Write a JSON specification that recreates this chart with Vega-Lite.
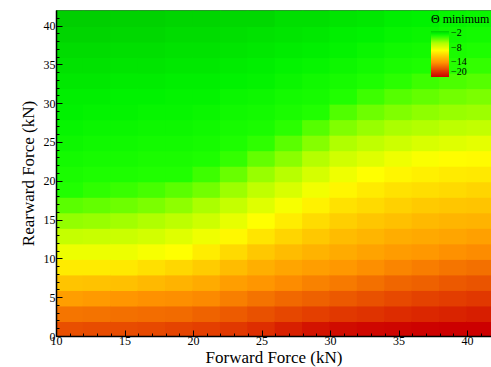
{
  "$schema": "https://vega.github.io/schema/vega-lite/v6.json",
  "width": 435,
  "height": 326,
  "autosize": "none",
  "padding": {"left": 56, "top": 10, "right": 0, "bottom": 31},
  "background": "white",
  "config": {"view": {"stroke": "#555", "strokeWidth": 1}},
  "data": {"values": [
{"x":10,"y":0,"v":-16.7},{"x":10,"y":2,"v":-15.2},{"x":10,"y":4,"v":-13.5},{"x":10,"y":6,"v":-11.7},{"x":10,"y":8,"v":-9.9},{"x":10,"y":10,"v":-8.3},{"x":10,"y":12,"v":-6.8},{"x":10,"y":14,"v":-5.4},{"x":10,"y":16,"v":-4.2},{"x":10,"y":18,"v":-3.0},{"x":10,"y":20,"v":-2.8},{"x":10,"y":22,"v":-2.6},{"x":10,"y":24,"v":-2.4},{"x":10,"y":26,"v":-2.2},{"x":10,"y":28,"v":-2.0},{"x":10,"y":30,"v":-1.9},{"x":10,"y":32,"v":-1.7},{"x":10,"y":34,"v":-1.5},{"x":10,"y":36,"v":-1.3},{"x":10,"y":38,"v":-1.1},{"x":10,"y":40,"v":-0.9},
{"x":12,"y":0,"v":-16.8},{"x":12,"y":2,"v":-15.3},{"x":12,"y":4,"v":-13.7},{"x":12,"y":6,"v":-11.8},{"x":12,"y":8,"v":-9.9},{"x":12,"y":10,"v":-8.3},{"x":12,"y":12,"v":-6.9},{"x":12,"y":14,"v":-5.5},{"x":12,"y":16,"v":-4.4},{"x":12,"y":18,"v":-3.3},{"x":12,"y":20,"v":-2.9},{"x":12,"y":22,"v":-2.7},{"x":12,"y":24,"v":-2.5},{"x":12,"y":26,"v":-2.3},{"x":12,"y":28,"v":-2.1},{"x":12,"y":30,"v":-1.9},{"x":12,"y":32,"v":-1.7},{"x":12,"y":34,"v":-1.5},{"x":12,"y":36,"v":-1.3},{"x":12,"y":38,"v":-1.1},{"x":12,"y":40,"v":-0.9},
{"x":14,"y":0,"v":-16.8},{"x":14,"y":2,"v":-15.4},{"x":14,"y":4,"v":-13.9},{"x":14,"y":6,"v":-11.9},{"x":14,"y":8,"v":-10.0},{"x":14,"y":10,"v":-8.3},{"x":14,"y":12,"v":-7.0},{"x":14,"y":14,"v":-5.7},{"x":14,"y":16,"v":-4.6},{"x":14,"y":18,"v":-3.5},{"x":14,"y":20,"v":-2.9},{"x":14,"y":22,"v":-2.7},{"x":14,"y":24,"v":-2.5},{"x":14,"y":26,"v":-2.3},{"x":14,"y":28,"v":-2.1},{"x":14,"y":30,"v":-2.0},{"x":14,"y":32,"v":-1.8},{"x":14,"y":34,"v":-1.6},{"x":14,"y":36,"v":-1.4},{"x":14,"y":38,"v":-1.2},{"x":14,"y":40,"v":-1.0},
{"x":16,"y":0,"v":-16.9},{"x":16,"y":2,"v":-15.5},{"x":16,"y":4,"v":-14.1},{"x":16,"y":6,"v":-12.2},{"x":16,"y":8,"v":-10.4},{"x":16,"y":10,"v":-8.7},{"x":16,"y":12,"v":-7.3},{"x":16,"y":14,"v":-6.0},{"x":16,"y":16,"v":-4.9},{"x":16,"y":18,"v":-3.8},{"x":16,"y":20,"v":-3.0},{"x":16,"y":22,"v":-2.8},{"x":16,"y":24,"v":-2.6},{"x":16,"y":26,"v":-2.4},{"x":16,"y":28,"v":-2.2},{"x":16,"y":30,"v":-2.0},{"x":16,"y":32,"v":-1.8},{"x":16,"y":34,"v":-1.6},{"x":16,"y":36,"v":-1.4},{"x":16,"y":38,"v":-1.2},{"x":16,"y":40,"v":-1.0},
{"x":18,"y":0,"v":-17.1},{"x":18,"y":2,"v":-15.6},{"x":18,"y":4,"v":-14.2},{"x":18,"y":6,"v":-12.5},{"x":18,"y":8,"v":-10.8},{"x":18,"y":10,"v":-9.0},{"x":18,"y":12,"v":-7.8},{"x":18,"y":14,"v":-6.5},{"x":18,"y":16,"v":-5.3},{"x":18,"y":18,"v":-4.2},{"x":18,"y":20,"v":-3.0},{"x":18,"y":22,"v":-2.8},{"x":18,"y":24,"v":-2.6},{"x":18,"y":26,"v":-2.4},{"x":18,"y":28,"v":-2.2},{"x":18,"y":30,"v":-2.1},{"x":18,"y":32,"v":-1.9},{"x":18,"y":34,"v":-1.7},{"x":18,"y":36,"v":-1.5},{"x":18,"y":38,"v":-1.3},{"x":18,"y":40,"v":-1.1},
{"x":20,"y":0,"v":-17.3},{"x":20,"y":2,"v":-15.9},{"x":20,"y":4,"v":-14.4},{"x":20,"y":6,"v":-12.9},{"x":20,"y":8,"v":-11.3},{"x":20,"y":10,"v":-9.8},{"x":20,"y":12,"v":-8.4},{"x":20,"y":14,"v":-7.1},{"x":20,"y":16,"v":-5.9},{"x":20,"y":18,"v":-4.7},{"x":20,"y":20,"v":-3.6},{"x":20,"y":22,"v":-2.9},{"x":20,"y":24,"v":-2.7},{"x":20,"y":26,"v":-2.5},{"x":20,"y":28,"v":-2.3},{"x":20,"y":30,"v":-2.1},{"x":20,"y":32,"v":-1.9},{"x":20,"y":34,"v":-1.7},{"x":20,"y":36,"v":-1.5},{"x":20,"y":38,"v":-1.3},{"x":20,"y":40,"v":-1.1},
{"x":22,"y":0,"v":-17.6},{"x":22,"y":2,"v":-16.2},{"x":22,"y":4,"v":-14.8},{"x":22,"y":6,"v":-13.5},{"x":22,"y":8,"v":-12.1},{"x":22,"y":10,"v":-10.7},{"x":22,"y":12,"v":-9.3},{"x":22,"y":14,"v":-8.1},{"x":22,"y":16,"v":-6.8},{"x":22,"y":18,"v":-5.6},{"x":22,"y":20,"v":-4.5},{"x":22,"y":22,"v":-3.4},{"x":22,"y":24,"v":-2.9},{"x":22,"y":26,"v":-2.7},{"x":22,"y":28,"v":-2.5},{"x":22,"y":30,"v":-2.3},{"x":22,"y":32,"v":-2.0},{"x":22,"y":34,"v":-1.8},{"x":22,"y":36,"v":-1.6},{"x":22,"y":38,"v":-1.4},{"x":22,"y":40,"v":-1.2},
{"x":24,"y":0,"v":-18.0},{"x":24,"y":2,"v":-16.6},{"x":24,"y":4,"v":-15.3},{"x":24,"y":6,"v":-13.9},{"x":24,"y":8,"v":-12.7},{"x":24,"y":10,"v":-11.5},{"x":24,"y":12,"v":-10.2},{"x":24,"y":14,"v":-9.0},{"x":24,"y":16,"v":-7.8},{"x":24,"y":18,"v":-6.6},{"x":24,"y":20,"v":-5.5},{"x":24,"y":22,"v":-4.4},{"x":24,"y":24,"v":-3.3},{"x":24,"y":26,"v":-2.8},{"x":24,"y":28,"v":-2.6},{"x":24,"y":30,"v":-2.4},{"x":24,"y":32,"v":-2.1},{"x":24,"y":34,"v":-1.9},{"x":24,"y":36,"v":-1.7},{"x":24,"y":38,"v":-1.5},{"x":24,"y":40,"v":-1.2},
{"x":26,"y":0,"v":-18.6},{"x":26,"y":2,"v":-17.0},{"x":26,"y":4,"v":-15.7},{"x":26,"y":6,"v":-14.3},{"x":26,"y":8,"v":-13.2},{"x":26,"y":10,"v":-12.1},{"x":26,"y":12,"v":-10.9},{"x":26,"y":14,"v":-9.8},{"x":26,"y":16,"v":-8.7},{"x":26,"y":18,"v":-7.5},{"x":26,"y":20,"v":-6.3},{"x":26,"y":22,"v":-5.2},{"x":26,"y":24,"v":-4.2},{"x":26,"y":26,"v":-3.2},{"x":26,"y":28,"v":-2.8},{"x":26,"y":30,"v":-2.6},{"x":26,"y":32,"v":-2.3},{"x":26,"y":34,"v":-2.1},{"x":26,"y":36,"v":-1.8},{"x":26,"y":38,"v":-1.6},{"x":26,"y":40,"v":-1.4},
{"x":28,"y":0,"v":-19.2},{"x":28,"y":2,"v":-17.3},{"x":28,"y":4,"v":-16.0},{"x":28,"y":6,"v":-14.7},{"x":28,"y":8,"v":-13.5},{"x":28,"y":10,"v":-12.5},{"x":28,"y":12,"v":-11.5},{"x":28,"y":14,"v":-10.6},{"x":28,"y":16,"v":-9.6},{"x":28,"y":18,"v":-8.5},{"x":28,"y":20,"v":-7.4},{"x":28,"y":22,"v":-6.2},{"x":28,"y":24,"v":-5.1},{"x":28,"y":26,"v":-4.1},{"x":28,"y":28,"v":-3.0},{"x":28,"y":30,"v":-2.7},{"x":28,"y":32,"v":-2.5},{"x":28,"y":34,"v":-2.2},{"x":28,"y":36,"v":-1.9},{"x":28,"y":38,"v":-1.7},{"x":28,"y":40,"v":-1.4},
{"x":30,"y":0,"v":-19.5},{"x":30,"y":2,"v":-17.6},{"x":30,"y":4,"v":-16.3},{"x":30,"y":6,"v":-15.0},{"x":30,"y":8,"v":-13.8},{"x":30,"y":10,"v":-12.9},{"x":30,"y":12,"v":-12.1},{"x":30,"y":14,"v":-11.2},{"x":30,"y":16,"v":-10.3},{"x":30,"y":18,"v":-9.4},{"x":30,"y":20,"v":-8.4},{"x":30,"y":22,"v":-7.2},{"x":30,"y":24,"v":-6.0},{"x":30,"y":26,"v":-5.0},{"x":30,"y":28,"v":-4.0},{"x":30,"y":30,"v":-3.0},{"x":30,"y":32,"v":-2.7},{"x":30,"y":34,"v":-2.4},{"x":30,"y":36,"v":-2.1},{"x":30,"y":38,"v":-1.9},{"x":30,"y":40,"v":-1.6},
{"x":32,"y":0,"v":-19.7},{"x":32,"y":2,"v":-17.8},{"x":32,"y":4,"v":-16.6},{"x":32,"y":6,"v":-15.4},{"x":32,"y":8,"v":-14.2},{"x":32,"y":10,"v":-13.3},{"x":32,"y":12,"v":-12.4},{"x":32,"y":14,"v":-11.6},{"x":32,"y":16,"v":-10.7},{"x":32,"y":18,"v":-9.9},{"x":32,"y":20,"v":-9.0},{"x":32,"y":22,"v":-7.8},{"x":32,"y":24,"v":-6.6},{"x":32,"y":26,"v":-5.5},{"x":32,"y":28,"v":-4.6},{"x":32,"y":30,"v":-3.6},{"x":32,"y":32,"v":-2.9},{"x":32,"y":34,"v":-2.6},{"x":32,"y":36,"v":-2.3},{"x":32,"y":38,"v":-2.0},{"x":32,"y":40,"v":-1.7},
{"x":34,"y":0,"v":-19.8},{"x":34,"y":2,"v":-18.1},{"x":34,"y":4,"v":-16.9},{"x":34,"y":6,"v":-15.8},{"x":34,"y":8,"v":-14.6},{"x":34,"y":10,"v":-13.6},{"x":34,"y":12,"v":-12.8},{"x":34,"y":14,"v":-11.9},{"x":34,"y":16,"v":-11.1},{"x":34,"y":18,"v":-10.3},{"x":34,"y":20,"v":-9.4},{"x":34,"y":22,"v":-8.4},{"x":34,"y":24,"v":-7.1},{"x":34,"y":26,"v":-5.9},{"x":34,"y":28,"v":-5.0},{"x":34,"y":30,"v":-4.1},{"x":34,"y":32,"v":-3.2},{"x":34,"y":34,"v":-2.8},{"x":34,"y":36,"v":-2.5},{"x":34,"y":38,"v":-2.2},{"x":34,"y":40,"v":-1.9},
{"x":36,"y":0,"v":-19.9},{"x":36,"y":2,"v":-18.3},{"x":36,"y":4,"v":-17.2},{"x":36,"y":6,"v":-16.0},{"x":36,"y":8,"v":-14.9},{"x":36,"y":10,"v":-13.8},{"x":36,"y":12,"v":-13.0},{"x":36,"y":14,"v":-12.2},{"x":36,"y":16,"v":-11.4},{"x":36,"y":18,"v":-10.5},{"x":36,"y":20,"v":-9.7},{"x":36,"y":22,"v":-8.8},{"x":36,"y":24,"v":-7.5},{"x":36,"y":26,"v":-6.1},{"x":36,"y":28,"v":-5.3},{"x":36,"y":30,"v":-4.4},{"x":36,"y":32,"v":-3.6},{"x":36,"y":34,"v":-2.9},{"x":36,"y":36,"v":-2.6},{"x":36,"y":38,"v":-2.3},{"x":36,"y":40,"v":-2.0},
{"x":38,"y":0,"v":-20.0},{"x":38,"y":2,"v":-18.5},{"x":38,"y":4,"v":-17.4},{"x":38,"y":6,"v":-16.3},{"x":38,"y":8,"v":-15.2},{"x":38,"y":10,"v":-14.1},{"x":38,"y":12,"v":-13.2},{"x":38,"y":14,"v":-12.4},{"x":38,"y":16,"v":-11.6},{"x":38,"y":18,"v":-10.7},{"x":38,"y":20,"v":-9.9},{"x":38,"y":22,"v":-9.1},{"x":38,"y":24,"v":-7.8},{"x":38,"y":26,"v":-6.5},{"x":38,"y":28,"v":-5.5},{"x":38,"y":30,"v":-4.7},{"x":38,"y":32,"v":-3.9},{"x":38,"y":34,"v":-3.1},{"x":38,"y":36,"v":-2.8},{"x":38,"y":38,"v":-2.5},{"x":38,"y":40,"v":-2.2},
{"x":40,"y":0,"v":-20.0},{"x":40,"y":2,"v":-18.7},{"x":40,"y":4,"v":-17.6},{"x":40,"y":6,"v":-16.5},{"x":40,"y":8,"v":-15.4},{"x":40,"y":10,"v":-14.3},{"x":40,"y":12,"v":-13.4},{"x":40,"y":14,"v":-12.5},{"x":40,"y":16,"v":-11.7},{"x":40,"y":18,"v":-10.9},{"x":40,"y":20,"v":-10.0},{"x":40,"y":22,"v":-9.2},{"x":40,"y":24,"v":-8.0},{"x":40,"y":26,"v":-6.7},{"x":40,"y":28,"v":-5.6},{"x":40,"y":30,"v":-4.9},{"x":40,"y":32,"v":-4.1},{"x":40,"y":34,"v":-3.4},{"x":40,"y":36,"v":-2.9},{"x":40,"y":38,"v":-2.6},{"x":40,"y":40,"v":-2.3}
  ]},
  "mark": {"type": "rect", "clip": true, "strokeWidth": 0, "binSpacing": 0, "x2Offset": -1, "y2Offset": 1},
  "encoding": {
    "x": {
      "field": "x", "type": "quantitative", "bin": {"binned": true, "step": 2},
      "scale": {"domain": [10, 41.75], "nice": false, "zero": false},
      "axis": {
        "title": "Forward Force (kN)",
        "values": [10,11,12,13,14,15,16,17,18,19,20,21,22,23,24,25,26,27,28,29,30,31,32,33,34,35,36,37,38,39,40,41],
        "labelExpr": "datum.value % 5 == 0 ? datum.value : ''",
        "labelFlush": false, "labelOverlap": false,
        "labelFont": "Liberation Serif", "labelFontSize": 12, "labelColor": "black",
        "labelPadding": 5,
        "tickSize": {"condition": {"test": "datum.value % 5 == 0", "value": -6}, "value": -3},
        "tickColor": "black", "domainColor": "black", "domainWidth": 1.5,
        "titleFont": "Liberation Serif", "titleFontSize": 17, "titleFontWeight": "normal", "titleColor": "black", "titlePadding": 0,
        "grid": false
      }
    },
    "y": {
      "field": "y", "type": "quantitative", "bin": {"binned": true, "step": 2},
      "scale": {"domain": [0, 42], "nice": false, "zero": false},
      "axis": {
        "title": "Rearward Force (kN)",
        "values": [0,1,2,3,4,5,6,7,8,9,10,11,12,13,14,15,16,17,18,19,20,21,22,23,24,25,26,27,28,29,30,31,32,33,34,35,36,37,38,39,40,41],
        "labelExpr": "datum.value % 5 == 0 ? datum.value : ''",
        "labelFlush": false, "labelOverlap": false,
        "labelFont": "Liberation Serif", "labelFontSize": 12, "labelColor": "black",
        "labelPadding": 7,
        "tickSize": {"condition": {"test": "datum.value % 5 == 0", "value": -6}, "value": -3},
        "tickColor": "black", "domainColor": "black", "domainWidth": 1.5,
        "titleFont": "Liberation Serif", "titleFontSize": 17, "titleFontWeight": "normal", "titleColor": "black", "titlePadding": 6,
        "grid": false
      }
    },
    "color": {
      "field": "v", "type": "quantitative",
      "scale": {
        "domain": [-20, -17.5, -14, -11.5, -9, -6, -3, -2, -1],
        "range": ["#cc0000", "#e23a00", "#ff9400", "#ffc800", "#ffff00", "#b0ff00", "#20ff00", "#00f200", "#00d200"],
        "interpolate": "rgb"
      },
      "legend": {
        "type": "gradient",
        "title": "Θ minimum",
        "orient": "none",
        "legendX": 375,
        "legendY": 4,
        "direction": "vertical",
        "values": [-20, -14, -8, -2],
        "gradientLength": 46,
        "gradientThickness": 18,
        "titleFont": "Liberation Serif", "titleFontSize": 12, "titleFontWeight": "normal", "titleColor": "black",
        "labelFont": "Liberation Serif", "labelFontSize": 10, "labelColor": "black",
        "labelOverlap": false
      }
    }
  }
}
